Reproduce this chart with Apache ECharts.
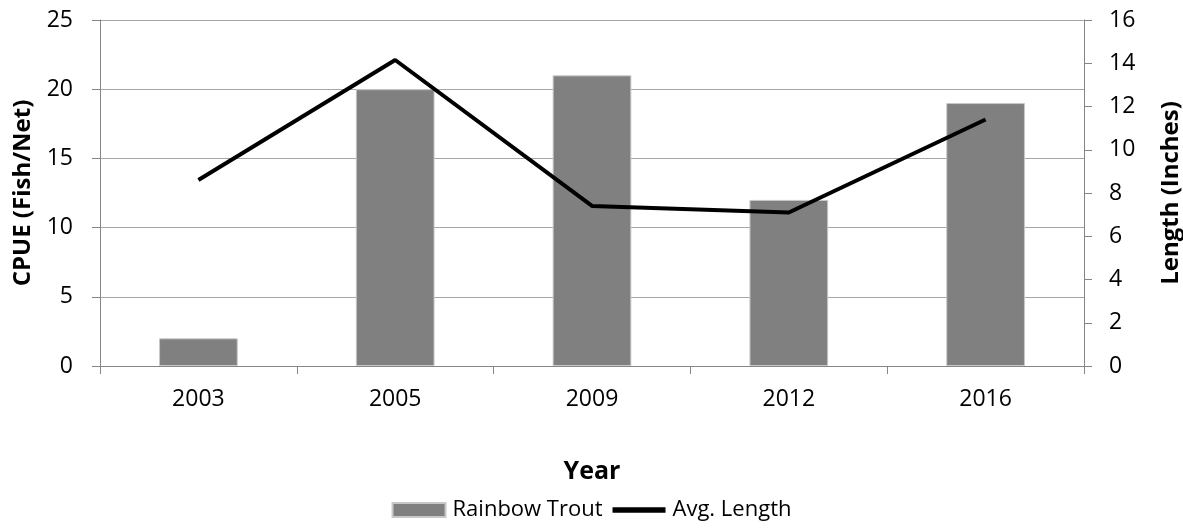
<!DOCTYPE html>
<html>
<head>
<meta charset="utf-8">
<script src="https://cdn.jsdelivr.net/npm/echarts@6/dist/echarts.min.js"></script>
<style>html,body{margin:0;padding:0;background:#fff}#c{width:1183px;height:529px}</style>
</head>
<body>
<div id="c"></div>
<script>
var years = ['2003', '2005', '2009', '2012', '2016'];
var cpue = [2, 20, 21, 12, 19];
var avgLength = [8.6, 14.15, 7.4, 7.1, 11.4];
var leftTicks = {min: 0, max: 25, interval: 5};
var rightTicks = {min: 0, max: 16, interval: 2};

var FONT = '"Open Sans", "Liberation Sans", sans-serif';
var chart = echarts.init(document.getElementById('c'), null, {renderer: 'canvas'});
chart.setOption({
  animation: false,
  textStyle: {fontFamily: FONT},
  grid: {left: 100, right: 99, top: 20, bottom: 163, containLabel: false, outerBoundsMode: 'none'},
  legend: {
    bottom: 3, left: 'center',
    itemGap: 10,
    textStyle: {fontFamily: FONT, fontSize: 22, color: '#000', padding: [0, 0, 0, 2]},
    data: [
      {name: 'Rainbow Trout', icon: 'rect', itemStyle: {color: '#808080'}},
      {name: 'Avg. Length', icon: 'path://M0,0 L10,0 L10,1 L0,1 Z', itemStyle: {color: '#000'}}
    ],
    itemWidth: 53, itemHeight: 14
  },
  xAxis: {
    type: 'category',
    data: years,
    boundaryGap: true,
    name: 'Year',
    nameLocation: 'middle',
    nameGap: 93,
    nameTextStyle: {fontFamily: FONT, fontSize: 25, fontWeight: 'bold', color: '#000'},
    axisLine: {lineStyle: {color: '#868686', width: 1}},
    axisTick: {show: true, alignWithLabel: false, length: 8, lineStyle: {color: '#868686'}},
    axisLabel: {fontFamily: FONT, fontSize: 23, color: '#000', margin: 22}
  },
  yAxis: [
    {
      type: 'value', min: leftTicks.min, max: leftTicks.max, interval: leftTicks.interval,
      name: 'CPUE (Fish/Net)', nameLocation: 'middle', nameGap: 65, nameRotate: 90,
      nameTextStyle: {fontFamily: FONT, fontSize: 24, fontWeight: 'bold', color: '#000'},
      axisLine: {show: true, lineStyle: {color: '#868686'}},
      axisTick: {show: true, length: 8, lineStyle: {color: '#868686'}},
      axisLabel: {fontFamily: FONT, fontSize: 23, color: '#000', margin: 27},
      splitLine: {show: true, lineStyle: {color: '#a6a6a6', width: 1}}
    },
    {
      type: 'value', min: rightTicks.min, max: rightTicks.max, interval: rightTicks.interval,
      name: 'Length (Inches)', nameLocation: 'middle', nameGap: 75, nameRotate: 90,
      nameTextStyle: {fontFamily: FONT, fontSize: 24, fontWeight: 'bold', color: '#000'},
      axisLine: {show: true, lineStyle: {color: '#868686'}},
      axisTick: {show: true, length: 8, lineStyle: {color: '#868686'}},
      axisLabel: {fontFamily: FONT, fontSize: 23, color: '#000', margin: 25},
      splitLine: {show: false}
    }
  ],
  series: [
    {
      name: 'Rainbow Trout', type: 'bar', yAxisIndex: 0, data: cpue,
      barWidth: '40%',
      itemStyle: {color: '#808080', borderColor: '#c8c8c8', borderWidth: 1}
    },
    {
      name: 'Avg. Length', type: 'line', yAxisIndex: 1, data: avgLength,
      symbol: 'none', lineStyle: {color: '#000', width: 4}, itemStyle: {color: '#000'}
    }
  ]
});
</script>
</body>
</html>
